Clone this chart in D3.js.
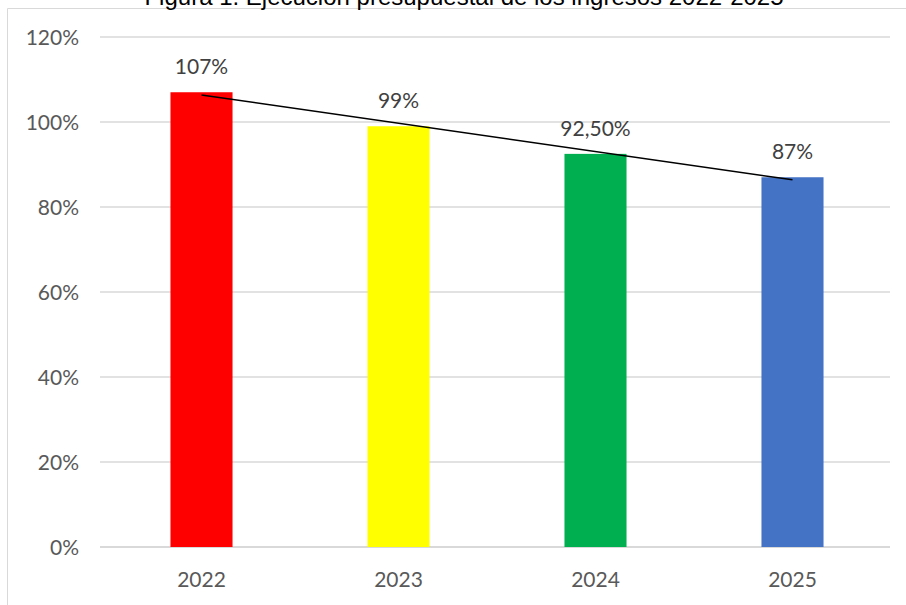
<!DOCTYPE html>
<html>
<head>
<meta charset="utf-8">
<script src="https://cdn.jsdelivr.net/npm/d3@7"></script>
<style>
  body { margin: 0; background: #fff; }
  svg { display: block; }
</style>
</head>
<body>
<svg id="chart"></svg>
<script>
const years = ["2022", "2023", "2024", "2025"];
const execution = [107, 99, 92.5, 87];
const valueLabels = ["107%", "99%", "92,50%", "87%"];
const barColors = ["#FF0000", "#FFFF00", "#00B050", "#4472C4"];
const yTicks = [0, 20, 40, 60, 80, 100, 120];
const title = "Figura 1. Ejecución presupuestal de los ingresos 2022-2025";

const width = 906, height = 605;
const margin = { top: 37, right: 15, bottom: 58, left: 103 };

const svg = d3.select("#chart").attr("width", width).attr("height", height);

// chart area border (only top and left are in view)
svg.append("path")
  .attr("d", `M7.5,${height} V8.5 H${width}`)
  .attr("fill", "none")
  .attr("stroke", "#d9d9d9")
  .attr("stroke-width", 1);

// title, mostly cut off above the frame
svg.append("text")
  .attr("x", 464)
  .attr("y", 4.5)
  .attr("text-anchor", "middle")
  .style("font-family", "'Liberation Sans', Arial, sans-serif")
  .style("font-size", "24px")
  .attr("fill", "#000")
  .text(title);

const x = d3.scaleBand()
  .domain(years)
  .range([margin.left, width - margin.right])
  .paddingInner(0.685)
  .paddingOuter(0.3425);

const y = d3.scaleLinear()
  .domain([0, 120])
  .range([height - margin.bottom, margin.top]);

// Draw grid lines
svg.append("g")
  .selectAll("line")
  .data(yTicks)
  .enter()
  .append("line")
  .attr("x1", margin.left - 3)
  .attr("x2", width - margin.right - 1)
  .attr("y1", d => y(d))
  .attr("y2", d => y(d))
  .attr("stroke", "#d9d9d9")
  .attr("stroke-width", d => d === 0 ? 2 : 1.5);

// Y axis labels
const yAxis = svg.append("g")
  .attr("transform", `translate(${margin.left - 24},0)`)
  .call(d3.axisLeft(y).tickValues(yTicks).tickSize(0).tickFormat(d => d + "%"));
yAxis.select(".domain").remove();
yAxis.selectAll("text")
  .attr("x", 0)
  .attr("dy", "0.35em")
  .style("font-family", "Lato, Calibri, sans-serif")
  .style("font-size", "21px")
  .attr("fill", "#595959");

// X axis labels
const xAxis = svg.append("g")
  .attr("transform", `translate(0,${y(0)})`)
  .call(d3.axisBottom(x).tickSize(0));
xAxis.select(".domain").remove();
xAxis.selectAll("text")
  .attr("y", 40)
  .attr("dy", 0)
  .style("font-family", "Lato, Calibri, sans-serif")
  .style("font-size", "21px")
  .attr("fill", "#595959");

const rows = years.map((yr, i) => ({ year: yr, value: execution[i], label: valueLabels[i], color: barColors[i] }));

// bars
svg.append("g")
  .selectAll("rect")
  .data(rows)
  .enter()
  .append("rect")
  .attr("x", d => x(d.year))
  .attr("y", d => y(d.value))
  .attr("width", x.bandwidth())
  .attr("height", d => y(0) - y(d.value))
  .attr("fill", d => d.color);

// linear trendline (least squares over the four years)
const xs = execution.map((_, i) => i);
const mx = d3.mean(xs), my = d3.mean(execution);
const slope = d3.sum(xs, (v, i) => (v - mx) * (execution[i] - my)) / d3.sum(xs, v => (v - mx) ** 2);
const intercept = my - slope * mx;
const cx = yr => x(yr) + x.bandwidth() / 2;
svg.append("line")
  .attr("x1", cx(years[0]))
  .attr("y1", y(intercept))
  .attr("x2", cx(years[years.length - 1]))
  .attr("y2", y(intercept + slope * (years.length - 1)))
  .attr("stroke", "#000")
  .attr("stroke-width", 1.5);

// value labels
svg.append("g")
  .selectAll("text")
  .data(rows)
  .enter()
  .append("text")
  .attr("x", d => cx(d.year))
  .attr("y", d => y(d.value) - 18)
  .attr("text-anchor", "middle")
  .style("font-family", "Lato, Calibri, sans-serif")
  .style("font-size", "21px")
  .attr("fill", "#404040")
  .text(d => d.label);
</script>
</body>
</html>
